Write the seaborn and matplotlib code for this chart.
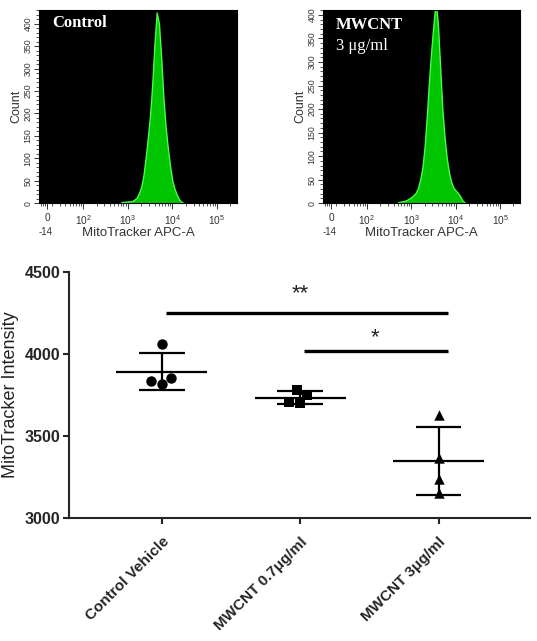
import numpy as np
import pandas as pd
import matplotlib.pyplot as plt
import seaborn as sns
from matplotlib.ticker import MultipleLocator, FixedLocator
import matplotlib.transforms as mtransforms

sns.set_style('ticks')
plt.rcParams['font.family'] = ['Liberation Sans', 'DejaVu Sans']
plt.rcParams['mathtext.fontset'] = 'custom'
plt.rcParams['mathtext.rm'] = 'Liberation Sans'
plt.rcParams['mathtext.it'] = 'Liberation Sans:italic'

# flow histograms: bin centres in log10 display units, counts per bin
control_bins = [2.85, 2.90, 2.95, 3.00, 3.05, 3.10, 3.15, 3.20, 3.25, 3.30, 3.35,
                3.40, 3.45, 3.50, 3.55, 3.60, 3.65, 3.70, 3.75, 3.80, 3.85, 3.90,
                3.95, 4.00, 4.05, 4.10, 4.15, 4.20, 4.25]
control_counts = [2, 3, 3, 4, 4, 5, 8, 12, 22, 36, 60, 100, 145, 195, 265, 355,
                  425, 400, 325, 235, 170, 122, 82, 50, 32, 19, 9, 3, 1]

mwcnt_bins = [2.70, 2.75, 2.80, 2.85, 2.90, 2.95, 3.00, 3.05, 3.10, 3.15, 3.20,
              3.25, 3.30, 3.35, 3.40, 3.45, 3.50, 3.55, 3.60, 3.65, 3.70, 3.75,
              3.80, 3.85, 3.90, 3.95, 4.00, 4.05, 4.10, 4.15, 4.20]
mwcnt_counts = [2, 3, 4, 5, 7, 10, 13, 17, 22, 32, 50, 75, 120, 185, 260, 325,
                380, 430, 380, 290, 200, 140, 95, 65, 45, 33, 27, 22, 15, 6, 2]

# scatter panel
groups = ['Control Vehicle', 'MWCNT 0.7\u03bcg/ml', 'MWCNT 3\u03bcg/ml']
control_vals = [4062, 3855, 3817, 3835]
mwcnt07_vals = [3780, 3750, 3699, 3707]
mwcnt3_vals = [3628, 3365, 3237, 3152]
markers = ['o', 's', '^']
sig_pairs = [(0, 2), (1, 2)]
sig_y = [4250, 4018]
sig_labels = ['**', '*']

fig = plt.figure(figsize=(5.37, 6.41), dpi=100)


def flow_panel(ax, centers, counts, ymax):
    hist_df = pd.DataFrame({'u': centers, 'count': counts})
    sns.histplot(data=hist_df, x='u', weights='count', binwidth=0.05,
                 binrange=(centers[0] - 0.025, centers[-1] + 0.025),
                 element='poly', fill=True, color='#00c400', edgecolor='#44ff44',
                 linewidth=1.0, alpha=1, ax=ax)
    ax.set_facecolor('black')
    ax.set_xlim(1.01, 5.45)
    ax.set_ylim(0, ymax)
    for s in ax.spines.values():
        s.set_color('black')
        s.set_linewidth(0.8)
    ax.yaxis.set_major_locator(MultipleLocator(50))
    ax.yaxis.set_minor_locator(MultipleLocator(10))
    ax.tick_params(axis='y', which='major', length=3.5, width=0.7, labelsize=6.3,
                   labelrotation=90, pad=1, colors='#333333')
    ax.tick_params(axis='y', which='minor', length=2, width=0.6, colors='#333333')
    for lab in ax.get_yticklabels():
        lab.set_va('center')
    ax.set_xticks([1.195, 2, 3, 4, 5])
    ax.set_xticklabels(['0', '$10^2$', '$10^3$', '$10^4$', '$10^5$'])
    minor = [1.05, 1.10, 1.15] + [1 + np.log10(k) for k in range(2, 10)]
    minor += [d + np.log10(k) for d in (2, 3, 4) for k in range(2, 10)] + [5.30]
    ax.xaxis.set_minor_locator(FixedLocator(minor))
    ax.tick_params(axis='x', which='major', length=4.5, width=0.7, labelsize=7.3,
                   pad=2.5, colors='#333333')
    ax.tick_params(axis='x', which='minor', length=2.5, width=0.6, colors='#333333')
    ax.set_ylabel('Count', fontsize=9, labelpad=1, color='#333333')
    ax.set_xlabel('MitoTracker APC-A', fontsize=9.5, labelpad=0, color='#333333')
    trans = mtransforms.blended_transform_factory(ax.transData, ax.transAxes)
    ax.text(1.15, -0.15, '-14', transform=trans, fontsize=7, ha='center',
            va='center', color='#333333')


ax1 = fig.add_axes([0.0726, 0.683, 0.3687, 0.301])
flow_panel(ax1, control_bins, control_counts, 430)
ax1.text(0.066, 0.975, 'Control', transform=ax1.transAxes, color='white',
         fontweight='bold', family='Liberation Serif', fontsize=12, va='top')

ax2 = fig.add_axes([0.6015, 0.683, 0.3668, 0.301])
flow_panel(ax2, mwcnt_bins, mwcnt_counts, 410)
ax2.text(0.066, 0.965, 'MWCNT', transform=ax2.transAxes, color='white',
         fontweight='bold', family='Liberation Serif', fontsize=12, va='top')
ax2.text(0.066, 0.855, '3 \u03bcg/ml', transform=ax2.transAxes, color='white',
         family='Liberation Serif', fontsize=12, va='top')

# bottom scatter with mean +- SD
ax3 = fig.add_axes([0.1285, 0.192, 0.8585, 0.3837])
group_vals = [control_vals, mwcnt07_vals, mwcnt3_vals]
df = pd.DataFrame({'group': np.repeat(groups, [len(v) for v in group_vals]),
                   'value': np.concatenate(group_vals)})
for g, m in zip(groups, markers):
    sns.swarmplot(data=df[df['group'] == g], x='group', y='value', order=groups,
                  marker=m, color='black', size=7.5, linewidth=0, ax=ax3)

for i, vals in enumerate(group_vals):
    mean = np.mean(vals)
    sd = np.std(vals, ddof=1)
    ax3.hlines(mean, i - 0.33, i + 0.33, color='black', lw=1.6)
    ax3.hlines([mean - sd, mean + sd], i - 0.165, i + 0.165, color='black', lw=1.6)
    ax3.vlines(i, mean - sd, mean + sd, color='black', lw=1.6)

for (a, b), y, lab in zip(sig_pairs, sig_y, sig_labels):
    ax3.hlines(y, a + 0.03, b + 0.065, color='black', lw=2.4)
    ax3.text((a + b) / 2 if a == 0 else (a + b) / 2 + 0.04,
             y + (115 if a == 0 else 80), lab,
             ha='center', va='center', fontsize=16, color='#222222')

ax3.set_xlim(-0.67, 2.66)
ax3.set_ylim(3000, 4500)
ax3.set_yticks([3000, 3500, 4000, 4500])
sns.despine(ax=ax3)
for s in ('left', 'bottom'):
    ax3.spines[s].set_linewidth(1.5)
ax3.tick_params(axis='both', length=4, width=1.5, labelsize=11.5, pad=2)
ax3.tick_params(axis='x', pad=8)
for lab in ax3.get_yticklabels():
    lab.set_fontweight('bold')
ax3.set_xlabel('')
ax3.set_ylabel('MitoTracker Intensity', fontsize=13, labelpad=4, color='#222222')
ax3.set_xticks(range(len(groups)))
ax3.set_xticklabels(groups, rotation=45, ha='right', rotation_mode='anchor',
                    fontweight='bold', fontsize=11)

fig.savefig('out.png', dpi=100)
